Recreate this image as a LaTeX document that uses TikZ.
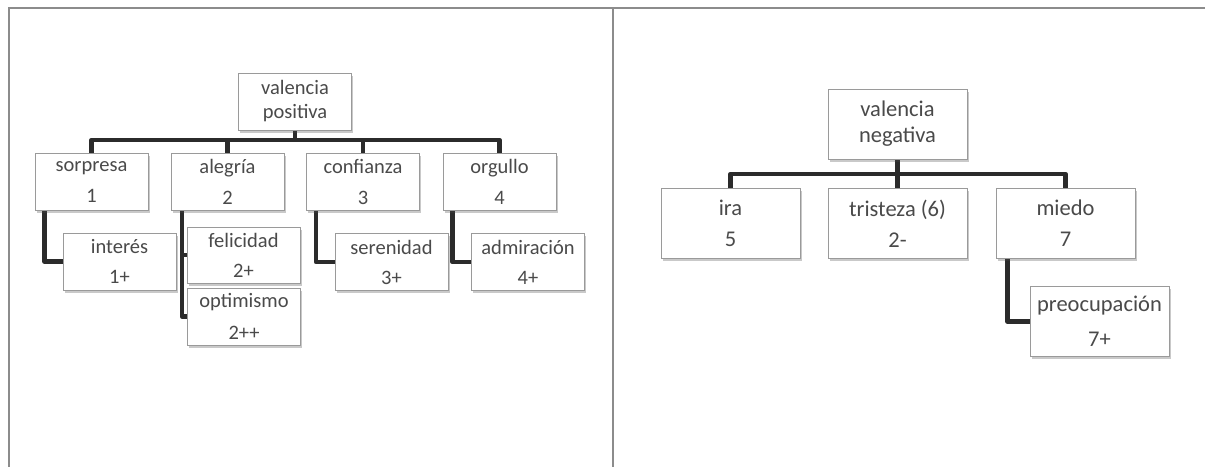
\documentclass[tikz,border=0pt]{standalone}
\usepackage{fontspec}
\setmainfont{Carlito}
\usetikzlibrary{shadows,backgrounds}
\definecolor{txt}{HTML}{4A4A4A}
\definecolor{bord}{HTML}{9A9A9A}
\definecolor{conn}{HTML}{2B2B2B}
\definecolor{framec}{HTML}{8C8C8C}
\begin{document}
\begin{tikzpicture}[x=1pt,y=-1pt,
  boxL/.style={draw=bord, line width=1pt, fill=white, minimum width=113pt, minimum height=57pt,
    inner sep=0pt, align=center, text=txt, font=\fontsize{20.5}{24}\selectfont,
    drop shadow={shadow xshift=1.5pt, shadow yshift=-2.5pt, opacity=0.3, fill=black!70}},
  boxR/.style={boxL, minimum width=139pt, minimum height=70pt, font=\fontsize{22.5}{26}\selectfont},
  link/.style={draw=conn, line width=4.5pt, line join=round},
  frameline/.style={draw=framec, line width=2pt}]
\useasboundingbox (0,0) rectangle (1205,467);
% frame
\draw[frameline] (8,8) -- (1205,8);
\draw[frameline] (9,8) -- (9,467);
\draw[frameline] (613,8) -- (613,467);

% left tree
\node[boxL] (vp) at (295,101.5) {valencia\\positiva};
\node[boxL] (sorpresa) at (91.5,182) {sorpresa\\[7pt]1};
\node[boxL] (alegria) at (227.5,182) {alegría\\[7pt]2};
\node[boxL] (confianza) at (363,182) {confianza\\[7pt]3};
\node[boxL] (orgullo) at (499.5,182) {orgullo\\[7pt]4};
\node[boxL] (interes) at (119.5,261.5) {interés\\[6pt]1+};
\node[boxL, minimum height=56pt] (felicidad) at (243.5,255) {felicidad\\[6pt]2+};
\node[boxL] (optimismo) at (244,316.5) {optimismo\\[8pt]2++};
\node[boxL] (serenidad) at (391.5,262) {serenidad\\[6pt]3+};
\node[boxL] (admiracion) at (528,262) {admiración\\[6pt]4+};

% right tree
\node[boxR] (vn) at (897.5,124) {valencia\\negativa};
\node[boxR] (ira) at (730.5,223.5) {ira\\[5pt]5};
\node[boxR] (tristeza) at (897.5,223.5) {tristeza (6)\\[5pt]2-};
\node[boxR] (miedo) at (1065.5,223) {miedo\\[5pt]7};
\node[boxR] (preoc) at (1099.5,321.5) {preocupación\\[9pt]7+};

\coordinate (busL) at (0,140);
\coordinate (busR) at (0,174);

\begin{scope}[on background layer]
\draw[link] (sorpresa.north) -- (sorpresa.north |- busL) -- (orgullo.north |- busL) -- (orgullo.north);
\draw[link] (vp.south) -- (vp.south |- busL);
\draw[link] (alegria.north) -- (alegria.north |- busL);
\draw[link] (confianza.north) -- (confianza.north |- busL);
\draw[link] ([xshift=10pt]sorpresa.south west) |- (interes.west);
\draw[link] ([xshift=11.5pt]alegria.south west) |- (optimismo.west);
\draw[link] ([xshift=11.5pt]alegria.south west |- felicidad.west) -- (felicidad.west);
\draw[link] ([xshift=10pt]confianza.south west) |- (serenidad.west);
\draw[link] ([xshift=10pt]orgullo.south west) |- (admiracion.west);

\draw[link] (ira.north) -- (ira.north |- busR) -- (miedo.north |- busR) -- (miedo.north);
\draw[link] (vn.south) -- (vn.south |- busR);
\draw[link] (tristeza.north) -- (tristeza.north |- busR);
\draw[link] ([xshift=12pt]miedo.south west) |- (preoc.west);
\end{scope}
\end{tikzpicture}
\end{document}
